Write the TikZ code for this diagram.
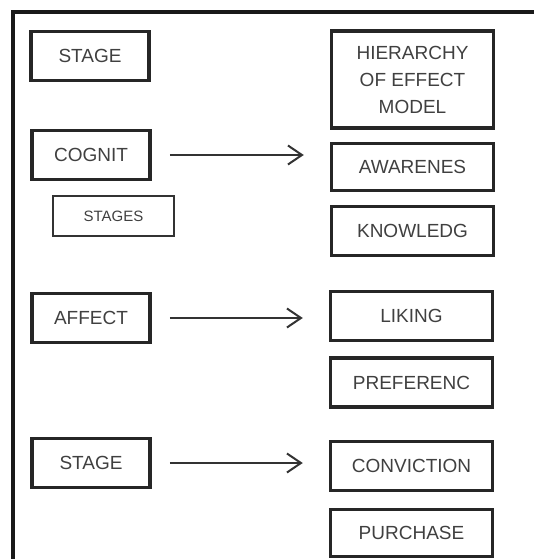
\documentclass[tikz,border=0pt]{standalone}
\usepackage{fontspec}
\setmainfont{Liberation Sans}
\usetikzlibrary{arrows.meta}

\tikzstyle{stagebox}=[draw=black!85, line width=3.5, minimum width=118, minimum height=49, inner sep=0, font=\fontsize{19}{27}\selectfont, text=black!75, align=center]
\tikzstyle{effectbox}=[stagebox, minimum width=162]
\tikzstyle{smallbox}=[draw=black!80, line width=2.5, minimum width=121, minimum height=40, inner sep=0, font=\fontsize{15}{20}\selectfont, text=black!75]
\tikzstyle{stagearrow}=[draw=black!80, line width=2, -{Straight Barb[length=14pt, width=19pt, line width=2]}, shorten <=18pt, shorten >=26pt]

\begin{document}
\begin{tikzpicture}[x=1pt, y=-1pt]
      \useasboundingbox (0,0) rectangle (534,559);
      \draw[black!90, line width=4] (13,562) -- (13,12) -- (537,12);

      % left column
      \node[stagebox] (stage1) at (90,56) {STAGE};
      \node[stagebox] (cognit) at (91,155) {COGNIT};
      \node[smallbox] (stages) at (113.5,216) {STAGES};
      \node[stagebox] (affect) at (91,318) {AFFECT};
      \node[stagebox] (stage2) at (91,463) {STAGE};

      % right column
      \node[effectbox, minimum height=97] (hierarchy) at (412.5,79.5) {HIERARCHY\\OF EFFECT\\MODEL};
      \node[effectbox, minimum height=47] (awarenes) at (412.5,167) {AWARENES};
      \node[effectbox] (knowledg) at (412.5,231) {KNOWLEDG};
      \node[effectbox] (liking) at (411.5,316) {LIKING};
      \node[effectbox] (preferenc) at (411.5,382.5) {PREFERENC};
      \node[effectbox] (conviction) at (411.5,466) {CONVICTION};
      \node[effectbox, minimum height=47] (purchase) at (411.5,533) {PURCHASE};

      \draw[stagearrow] (cognit.east) -- (cognit.east -| awarenes.west);
      \draw[stagearrow] (affect.east) -- (affect.east -| liking.west);
      \draw[stagearrow] (stage2.east) -- (stage2.east -| conviction.west);
\end{tikzpicture}
\end{document}
